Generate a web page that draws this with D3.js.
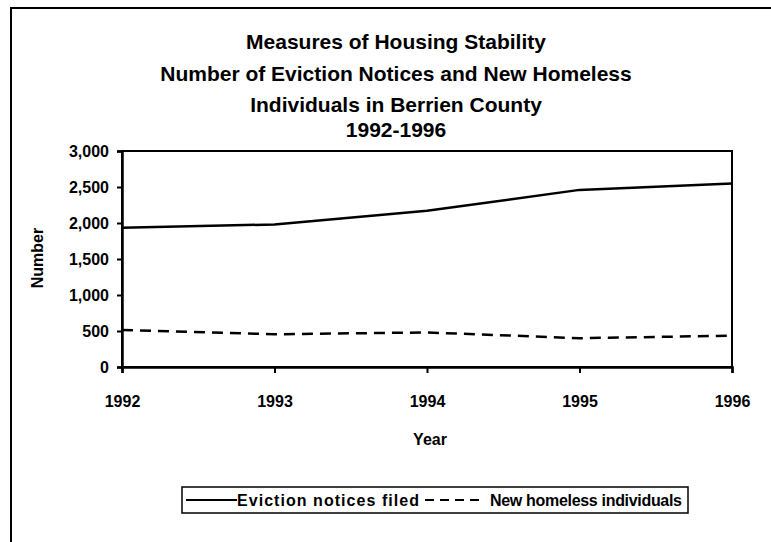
<!DOCTYPE html>
<html>
<head>
<meta charset="utf-8">
<script src="https://cdn.jsdelivr.net/npm/d3@7"></script>
<style>
  body { margin: 0; background: #fff; }
  svg text { font-family: "Liberation Sans", Arial, sans-serif; font-weight: bold; fill: #000; }
</style>
</head>
<body>
<div id="chart"></div>
<script>
// data
var years = [1992, 1993, 1994, 1995, 1996];
var evictions = [1935, 1980, 2170, 2460, 2550];
var homeless = [515, 455, 480, 400, 435];
var yTicks = [0, 500, 1000, 1500, 2000, 2500, 3000];
var titleLines = ["Measures of Housing Stability",
  "Number of Eviction Notices and New Homeless",
  "Individuals in Berrien County",
  "1992-1996"];
var seriesNames = ["Eviction notices filed", "New homeless individuals"];

var width = 771, height = 542;
var plot = { left: 122, right: 732, top: 151, bottom: 367 };

var svg = d3.select("#chart").append("svg")
  .attr("width", width)
  .attr("height", height);

// outer chart frame (only top and left show)
svg.append("path")
  .attr("d", "M11,542 L11,8 L771,8")
  .attr("fill", "none")
  .attr("stroke", "#000")
  .attr("stroke-width", 2);

// title
var titleY = [49, 81, 112, 137];
svg.selectAll("text.title")
  .data(titleLines)
  .enter().append("text")
  .attr("class", "title")
  .attr("x", 396)
  .attr("y", (d, i) => titleY[i])
  .attr("text-anchor", "middle")
  .style("font-size", "21px")
  .text(d => d);

var x = d3.scaleLinear().domain([1992, 1996]).range([plot.left, plot.right]);
var y = d3.scaleLinear().domain([0, 3000]).range([plot.bottom, plot.top]);

// plot area border
svg.append("rect")
  .attr("x", plot.left).attr("y", plot.top)
  .attr("width", plot.right - plot.left)
  .attr("height", plot.bottom - plot.top)
  .attr("fill", "none")
  .attr("stroke", "#000")
  .attr("stroke-width", 2);

// y axis
var yAxis = d3.axisLeft(y).tickValues(yTicks).tickSize(5).tickPadding(8)
  .tickFormat(d3.format(","));
var gy = svg.append("g")
  .attr("transform", `translate(${plot.left},0)`)
  .call(yAxis);
gy.select(".domain").attr("stroke-width", 2.5);
gy.selectAll("line").attr("stroke-width", 2);
gy.selectAll("text").style("font-size", "16px");

// x axis
var xAxis = d3.axisBottom(x).tickValues(years).tickSize(6).tickPadding(23)
  .tickFormat(d3.format("d"));
var gx = svg.append("g")
  .attr("transform", `translate(0,${plot.bottom})`)
  .call(xAxis);
gx.select(".domain").attr("stroke-width", 2.5);
gx.selectAll("line").attr("stroke-width", 2);
gx.selectAll("text").style("font-size", "16px");

// axis titles
svg.append("text")
  .attr("x", 430).attr("y", 445)
  .attr("text-anchor", "middle")
  .style("font-size", "16px")
  .text("Year");
svg.append("text")
  .attr("transform", "translate(43,258) rotate(-90)")
  .attr("text-anchor", "middle")
  .style("font-size", "16px")
  .text("Number");

// lines
var line = d3.line().x((d, i) => x(years[i])).y(d => y(d));
svg.append("path")
  .datum(evictions)
  .attr("d", line)
  .attr("fill", "none")
  .attr("stroke", "#000")
  .attr("stroke-width", 2.5);
svg.append("path")
  .datum(homeless)
  .attr("d", line)
  .attr("fill", "none")
  .attr("stroke", "#000")
  .attr("stroke-width", 2.5)
  .attr("stroke-dasharray", "11,7");

// legend
var legend = svg.append("g");
legend.append("rect")
  .attr("x", 182).attr("y", 487)
  .attr("width", 506).attr("height", 26)
  .attr("fill", "none")
  .attr("stroke", "#000")
  .attr("stroke-width", 1.5);
legend.append("line")
  .attr("x1", 186).attr("x2", 237).attr("y1", 500).attr("y2", 500)
  .attr("stroke", "#000").attr("stroke-width", 2);
legend.append("text")
  .attr("x", 237).attr("y", 506)
  .attr("textLength", 182)
  .attr("lengthAdjust", "spacing")
  .style("font-size", "16px")
  .text(seriesNames[0]);
legend.append("line")
  .attr("x1", 425).attr("x2", 480).attr("y1", 500).attr("y2", 500)
  .attr("stroke", "#000").attr("stroke-width", 2)
  .attr("stroke-dasharray", "9,6");
legend.append("text")
  .attr("x", 490).attr("y", 506)
  .attr("textLength", 192)
  .attr("lengthAdjust", "spacing")
  .style("font-size", "16px")
  .text(seriesNames[1]);
</script>
</body>
</html>
